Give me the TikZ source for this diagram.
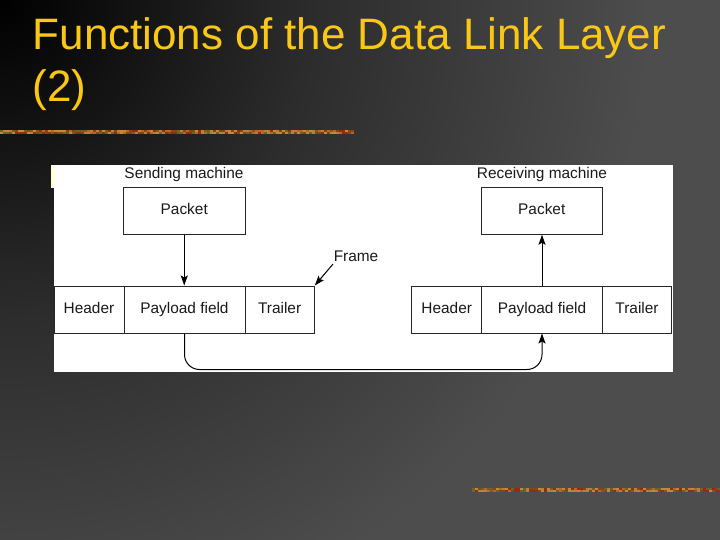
\documentclass[tikz,border=0pt]{standalone}
\usepackage{fontspec}
\setmainfont{Liberation Sans}
\usetikzlibrary{arrows.meta,calc}
\definecolor{bgouter}{RGB}{77,77,77}
\definecolor{bgmid}{RGB}{44,44,44}
\definecolor{titlegold}{RGB}{250,200,20}
\definecolor{paleyellow}{RGB}{255,255,208}
\definecolor{diagtext}{RGB}{25,25,25}
\definecolor{deco1}{RGB}{190,140,50}
\definecolor{deco2}{RGB}{130,70,26}
\definecolor{deco3}{RGB}{150,42,18}
\definecolor{deco4}{RGB}{105,100,40}
\definecolor{deco5}{RGB}{195,100,30}
\definecolor{deco6}{RGB}{180,130,60}
\pgfdeclareradialshading{bgshade}{\pgfpoint{0bp}{0bp}}{color(0bp)=(black); color(12bp)=(bgmid); color(25bp)=(bgouter); color(50bp)=(bgouter)}
\tikzset{
  titletext/.style={anchor=base west, inner sep=0pt, text=titlegold, font=\fontsize{44}{52}\selectfont},
  diaglabel/.style={inner sep=0pt, text=diagtext, text height=11pt, text depth=3pt, font=\fontsize{15.4}{18}\selectfont},
  fieldbox/.style={draw=black!85, line width=1pt, inner sep=0pt, minimum height=47pt, text height=11pt, text depth=3pt, text=diagtext, font=\fontsize{15.4}{18}\selectfont},
  arr/.style={line width=1pt, draw=black, -{Stealth[length=10pt,width=7pt,inset=2pt]}},
}
\begin{document}
\begin{tikzpicture}[x=1pt,y=-1pt]
\useasboundingbox (0,0) rectangle (720,540);
% background
\fill[bgouter] (0,0) rectangle (720,540);
\begin{scope}
  \clip (0,0) rectangle (720,540);
  \shade[shading=bgshade] (0,0) circle (650pt);
\end{scope}
% title
\node[titletext] (title1) at (32.5,49.5) {Functions of the Data Link Layer};
\node[titletext] (title2) at (32.5,102) {(2)};
% decorative lines
\pgfmathsetseed{7}
\foreach \i in {0,...,117} {
  \pgfmathrandominteger{\ca}{1}{6}
  \fill[deco\ca] (\i*3,130.5) rectangle ++(3,2);
  \pgfmathrandominteger{\cb}{1}{6}
  \fill[deco\cb] (\i*3,132.5) rectangle ++(3,2);
}
\foreach \i in {0,...,82} {
  \pgfmathrandominteger{\ca}{1}{6}
  \fill[deco\ca] (472+\i*3,488) rectangle ++(3,2);
  \pgfmathrandominteger{\cb}{1}{6}
  \fill[deco\cb] (472+\i*3,490) rectangle ++(3,2);
}
% white panel
\fill[paleyellow] (50.5,165) rectangle (55,188);
\fill[white] (53.5,165) rectangle (673,371.5);
\fill[white] (55,165) rectangle (673,188);
% labels
\node[diaglabel] (sendlbl) at (184,175) {Sending machine};
\node[diaglabel] (recvlbl) at (542,175) {Receiving machine};
% packet boxes
\node[fieldbox, minimum width=121.5pt] (spkt) at (184.25,210.75) {Packet};
\node[fieldbox, minimum width=121.5pt] (rpkt) at (541.75,210.75) {Packet};
% left frame
\node[fieldbox, minimum width=70pt] (h1) at (89,309.5) {Header};
\node[fieldbox, minimum width=121pt] (p1) at (184.5,309.5) {Payload field};
\node[fieldbox, minimum width=69.3pt] (t1) at (279.65,309.5) {Trailer};
% right frame
\node[fieldbox, minimum width=70pt] (h2) at (446.7,309.5) {Header};
\node[fieldbox, minimum width=120.6pt] (p2) at (542,309.5) {Payload field};
\node[fieldbox, minimum width=69.4pt] (t2) at (637,309.5) {Trailer};
% frame label
\node[diaglabel] (framelbl) at (356,257) {Frame};
\coordinate (framestart) at (333,264);
% connectors
\draw[arr] (spkt.south) -- (spkt.south |- p1.north);
\draw[arr] (p2.north) -- (p2.north |- rpkt.south);
\draw[arr] (framestart) -- (t1.north east);
\draw[arr, rounded corners=15pt] (p1.south) -- ++(0,36) -| (p2.south);
\end{tikzpicture}
\end{document}
